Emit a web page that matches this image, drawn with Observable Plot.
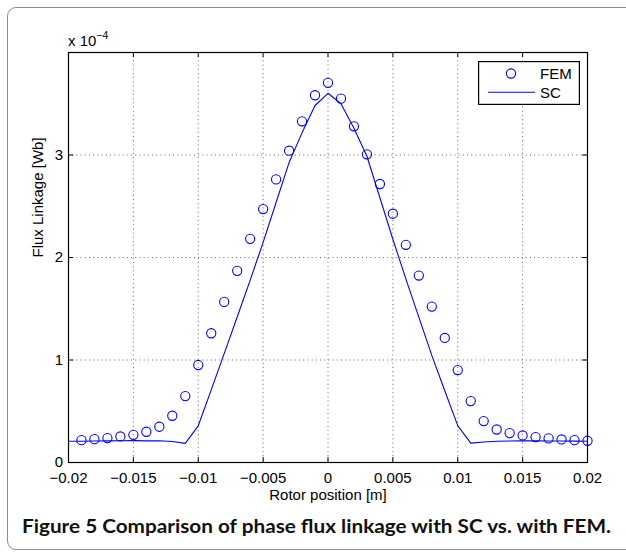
<!DOCTYPE html>
<html>
<head>
<meta charset="utf-8">
<script src="https://cdn.jsdelivr.net/npm/d3@7"></script>
<script src="https://cdn.jsdelivr.net/npm/@observablehq/plot@0.6"></script>
<style>
  html, body { margin: 0; padding: 0; background: #fff; }
  body { width: 626px; height: 554px; overflow: hidden; position: relative; font-family: "Liberation Sans", Arial, sans-serif; }
  #border { position: absolute; left: 7px; top: 7px; width: 700px; height: 543px; border: 1.5px solid #8c8c8c; border-radius: 9px; box-sizing: border-box; }
  #chart { position: absolute; left: 0; top: 0; }
  #expo { position: absolute; left: 68px; top: 30px; font-size: 15px; color: #000; }
  #expo sup { font-size: 10.5px; position: relative; top: -1px; }
  #legend { position: absolute; left: 478px; top: 61px; }
  #caption { position: absolute; left: 22px; top: 514px; font-family: Lato, "Open Sans", sans-serif; font-weight: 700; font-size: 19.5px; color: #111; white-space: nowrap; transform-origin: 0 0; }
</style>
</head>
<body>
<div id="border"></div>
<div id="chart"></div>
<div id="expo">x 10<sup>−4</sup></div>
<div id="legend"></div>
<div id="caption">Figure 5 Comparison of phase flux linkage with SC vs. with FEM.</div>
<script>
// Rotor position [m] of FEM samples
const femX = [-0.019,-0.018,-0.017,-0.016,-0.015,-0.014,-0.013,-0.012,-0.011,-0.010,
  -0.009,-0.008,-0.007,-0.006,-0.005,-0.004,-0.003,-0.002,-0.001,0,
  0.001,0.002,0.003,0.004,0.005,0.006,0.007,0.008,0.009,0.010,
  0.011,0.012,0.013,0.014,0.015,0.016,0.017,0.018,0.019,0.020];
// FEM flux linkage (x 10^-4 Wb)
const femY = [0.218,0.228,0.238,0.254,0.270,0.300,0.349,0.456,0.648,0.951,
  1.261,1.567,1.870,2.182,2.472,2.762,3.042,3.329,3.583,3.704,
  3.550,3.280,3.007,2.717,2.427,2.124,1.824,1.521,1.215,0.902,
  0.599,0.404,0.322,0.287,0.264,0.248,0.235,0.225,0.218,0.212];
// Rotor position [m] of SC samples
const scX = [-0.020,-0.019,-0.018,-0.017,-0.016,-0.015,-0.014,-0.013,-0.012,-0.011,-0.010,
  -0.009,-0.008,-0.007,-0.006,-0.005,-0.004,-0.003,-0.002,-0.001,0,
  0.001,0.002,0.003,0.004,0.005,0.006,0.007,0.008,0.009,0.010,
  0.011,0.012,0.013,0.014,0.015,0.016,0.017,0.018,0.019,0.020];
// SC flux linkage (x 10^-4 Wb)
const scY = [0.207,0.208,0.210,0.211,0.212,0.213,0.211,0.212,0.205,0.187,0.358,
  0.709,1.062,1.419,1.777,2.148,2.537,2.926,3.216,3.483,3.602,
  3.500,3.262,2.988,2.583,2.178,1.791,1.418,1.045,0.700,0.360,
  0.189,0.200,0.208,0.210,0.211,0.211,0.210,0.210,0.209,0.208];

const xTicks = [-0.02,-0.015,-0.01,-0.005,0,0.005,0.01,0.015,0.02];
const yTicks = [0,1,2,3];
const xDomain = [-0.02, 0.02];
const yDomain = [0, 4];
const seriesNames = ["FEM", "SC"];
const xLabel = "Rotor position [m]";
const yLabel = "Flux Linkage [Wb]";

const fem = femX.map((x, i) => ({x, y: femY[i]}));
const sc = scX.map((x, i) => ({x, y: scY[i]}));

const W = 626, H = 510, mT = 52, mL = 68, mR = 39, mB = 48;
const pw = W - mL - mR, ph = H - mT - mB;
const blue = "#0000ff";
const fmt = d => String(d).replace("-", "\u2212");

const chart = Plot.plot({
  width: W, height: H,
  marginTop: mT, marginLeft: mL, marginRight: mR, marginBottom: mB,
  x: {domain: xDomain},
  y: {domain: yDomain},
  style: {fontFamily: "'Liberation Sans', Arial, sans-serif", fontSize: "15px", color: "#000", background: "transparent", overflow: "visible"},
  marks: [
    Plot.gridX(xTicks, {stroke: "#555", strokeOpacity: 0.9, strokeDasharray: "1,3.2"}),
    Plot.gridY(yTicks, {stroke: "#555", strokeOpacity: 0.9, strokeDasharray: "1,3.2"}),
    Plot.ruleX(xTicks, {x: d => d, insetTop: ph - 5, stroke: "#000"}),
    Plot.ruleX(xTicks, {x: d => d, insetBottom: ph - 5, stroke: "#000"}),
    Plot.ruleY(yTicks, {y: d => d, insetRight: pw - 5, stroke: "#000"}),
    Plot.ruleY(yTicks, {y: d => d, insetLeft: pw - 5, stroke: "#000"}),
    Plot.axisX(xTicks, {tickSize: 0, tickPadding: 9.5, tickFormat: fmt, label: null, fill: "#000"}),
    Plot.axisY(yTicks, {tickSize: 0, tickPadding: 5.5, tickFormat: d => String(d), label: null, fill: "#000"}),
    Plot.text([xLabel], {frameAnchor: "bottom", dy: 33, text: d => d, lineAnchor: "middle", fill: "#000"}),
    Plot.text([yLabel], {frameAnchor: "left", dx: -30, rotate: -90, text: d => d, lineAnchor: "middle", fill: "#000"}),
    Plot.line(sc, {x: "x", y: "y", stroke: blue, strokeWidth: 1.1}),
    Plot.dot(fem, {x: "x", y: "y", r: 4.6, stroke: blue, strokeWidth: 1.1, fill: "none"}),
    Plot.frame({stroke: "#000", strokeWidth: 1.2})
  ]
});
document.getElementById("chart").appendChild(chart);

// Legend
const lg = d3.select("#legend").append("svg").attr("width", 102).attr("height", 44)
  .style("font-family", "'Liberation Sans', Arial, sans-serif").style("font-size", "15px");
lg.append("rect").attr("x", 0.6).attr("y", 0.6).attr("width", 100.8).attr("height", 42.8)
  .attr("fill", "#fff").attr("stroke", "#000").attr("stroke-width", 1.2);
lg.append("circle").attr("cx", 33).attr("cy", 12.5).attr("r", 4.6).attr("fill", "none").attr("stroke", blue).attr("stroke-width", 1.1);
lg.append("line").attr("x1", 10).attr("x2", 57).attr("y1", 31.3).attr("y2", 31.3).attr("stroke", blue).attr("stroke-width", 1.1);
lg.append("text").attr("x", 62).attr("y", 12.5).attr("dy", "0.36em").text(seriesNames[0]);
lg.append("text").attr("x", 62).attr("y", 31.3).attr("dy", "0.36em").text(seriesNames[1]);

// Fit caption width to reference span
const cap = document.getElementById("caption");
const cw = cap.getBoundingClientRect().width;
cap.style.transform = `scaleX(${589 / cw})`;
</script>
</body>
</html>
